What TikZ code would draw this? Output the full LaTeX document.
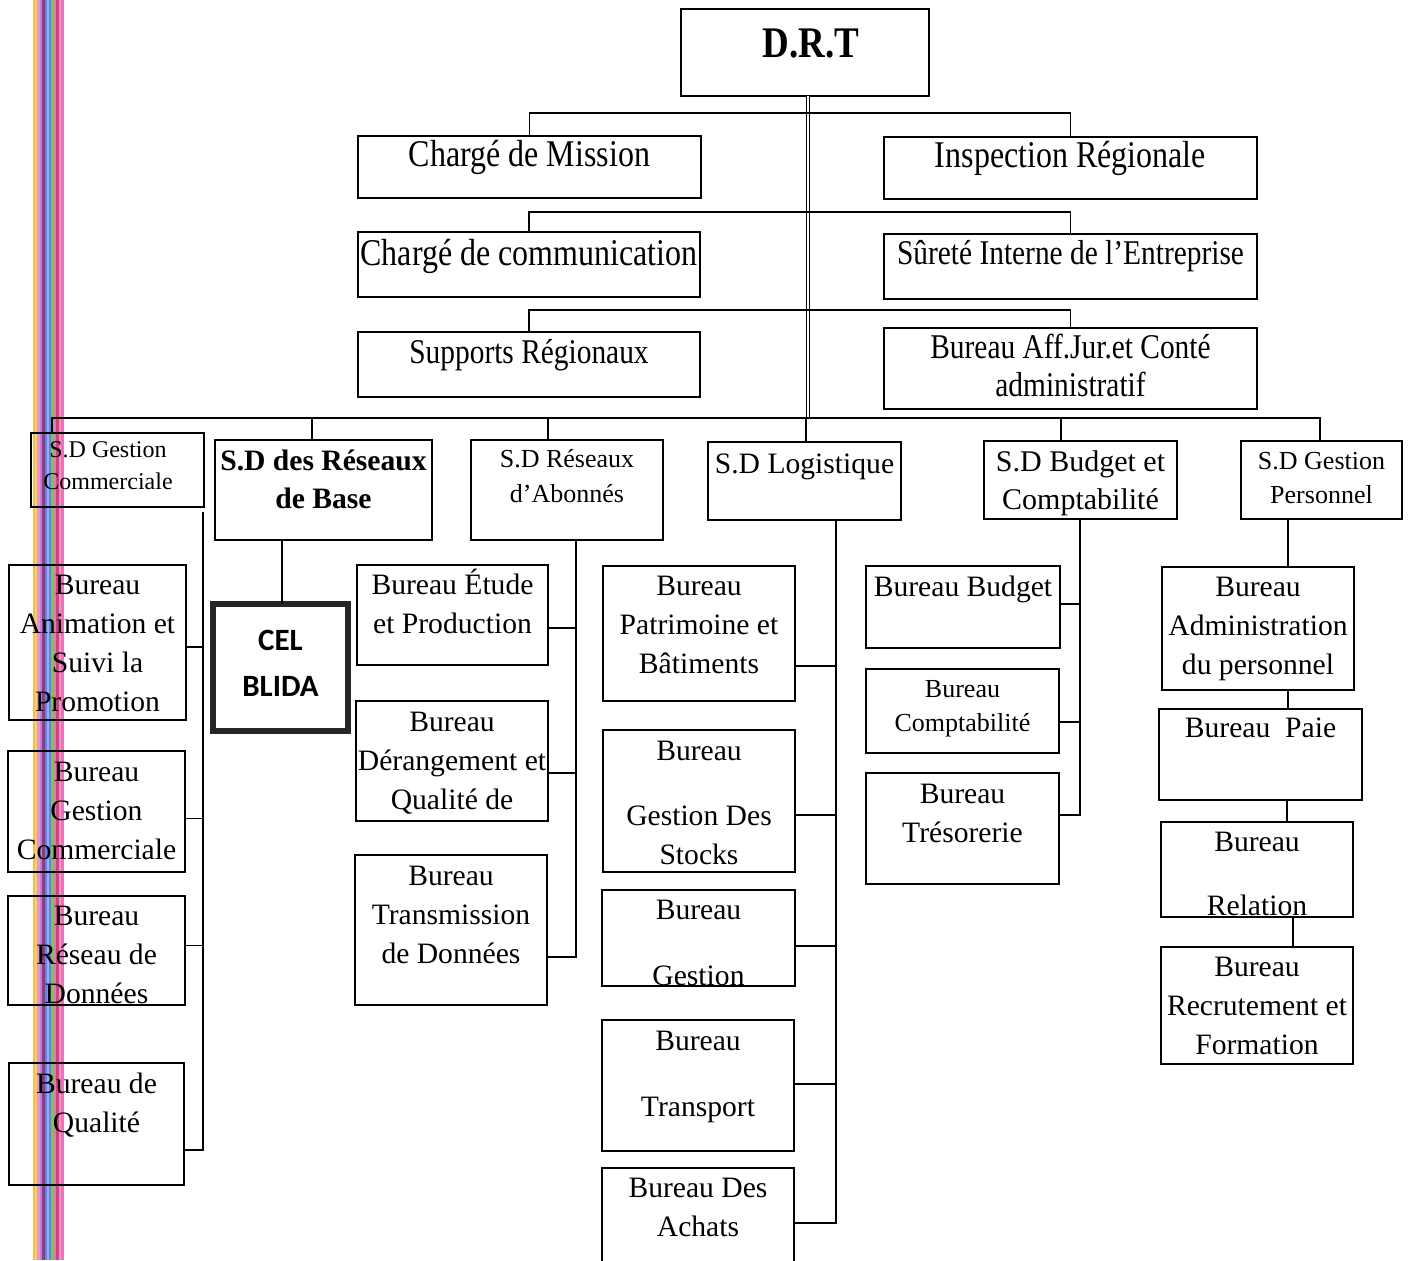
\documentclass[tikz,border=0pt]{standalone}
\usepackage{fontspec}
\setmainfont{Liberation Serif}
\newfontfamily\celfont{Carlito}
\usepackage{graphicx}
\usetikzlibrary{calc,fit}

\definecolor{stO}{RGB}{250,185,70}
\definecolor{stY}{RGB}{240,210,90}
\definecolor{stP}{RGB}{240,140,200}
\definecolor{stV}{RGB}{175,125,225}
\definecolor{stM}{RGB}{140,50,110}
\definecolor{stB}{RGB}{95,120,240}
\definecolor{stL}{RGB}{140,175,250}
\definecolor{stG}{RGB}{125,190,75}
\definecolor{stR}{RGB}{205,60,115}
\definecolor{stQ}{RGB}{230,110,185}

% one line of the condensed headings
\newcommand\tallline[1]{\scalebox{1}[1.18]{#1}}
\newcommand\fsz[2]{\fontsize{#1}{#2}\selectfont}
% framed unit: name, x1, y1, x2, y2, text style, offset of the last baseline, text
\newcommand\orgbox[8]{%
  \node[box,fit={(#2,#3) (#4,#5)}] (#1) {};
  \node[lbl,#6] (#1-t) at ($(#1.north)+(0,#7)$) {#8};}

\begin{document}
\begin{tikzpicture}[x=0.5pt,y=-0.5pt,
  box/.style={draw=black,line width=1.05pt,inner sep=0pt,outer sep=0pt},
  celbox/.style={draw=black!85,line width=2.6pt,inner sep=0pt,outer sep=0pt},
  lbl/.style={inner sep=0pt,align=center,anchor=base},
  fA/.style={font=\fsz{14.8}{19.5}},
  fB/.style={font=\bfseries\fsz{14.8}{19}},
  fS12/.style={font=\fsz{12}{16}},
  fS13/.style={font=\fsz{13}{17.5}},
  fS13b/.style={font=\fsz{13}{17}},
  fS15b/.style={font=\fsz{15}{19}},
  fS16/.style={font=\fsz{16}{19}},
  fS15/.style={font=\fsz{14.7}{19}},
  fDRT/.style={font=\bfseries\fsz{18.5}{22}},
  conn/.style={draw=black,line width=0.8pt},
  busL/.style={draw=black,line width=1.3pt},
  busR/.style={draw=black,line width=0.9pt},
  trunk/.style={draw=black,double,double distance=1pt,line width=0.6pt}]

\useasboundingbox (0,0) rectangle (1413,1260);
\fill[white] (0,0) rectangle (1413,1260);

% coloured vertical streaks along the left margin
\foreach \xx/\cc in {34/stO,36/stY,38.5/stP,41/stV,43.5/stM,46/stB,48/stL,50/stB,52.5/stG,55/stQ,57.5/stR,60/stP,62.5/stQ}
  \draw[\cc,line width=1.1pt,opacity=0.95] (\xx,0) -- (\xx,1260);

% direction and staff units
\orgbox{drt}{681}{9}{929}{96}{fDRT,xshift=3pt}{48}{\tallline{D.R.T}}
\orgbox{cm}{358}{136}{701}{198}{fS16}{30}{\tallline{Chargé de Mission}}
\orgbox{ir}{884}{137}{1257}{199}{fS16}{30}{\tallline{Inspection Régionale}}
\orgbox{cc}{358}{232}{700}{297}{fS16}{33}{\tallline{Chargé de communication}}
\orgbox{sie}{884}{234}{1257}{299}{fS15}{30}{\tallline{Sûreté Interne de l’Entreprise}}
\orgbox{sr}{358}{332}{700}{397}{fS15}{31}{\tallline{Supports Régionaux}}
\orgbox{baj}{884}{328}{1257}{409}{fS15}{68}{\tallline{Bureau Aff.Jur.et Conté}\\\tallline{administratif}}

% sub-directorates
\orgbox{sdgc}{31}{433}{204}{507}{fS12,xshift=-4.75pt}{56}{S.D Gestion\\Commerciale}
\orgbox{sdrb}{215}{440}{432}{540}{fB}{68}{S.D des Réseaux\\de Base}
\orgbox{sdra}{471}{440}{663}{540}{fS13}{62}{S.D Réseaux\\d’Abonnés}
\orgbox{sdl}{708}{442}{901}{520}{fA}{31}{S.D Logistique}
\orgbox{sdbc}{984}{441}{1177}{519}{fS15b}{68}{S.D Budget et\\Comptabilité}
\orgbox{sdgp}{1241}{441}{1402}{519}{fS13b}{62}{S.D Gestion\\Personnel}

% offices: commercial
\orgbox{ba}{9}{565}{186}{720}{fA}{146}{Bureau\\Animation et\\Suivi la\\Promotion}
\orgbox{bgc}{8}{751}{185}{872}{fA}{108}{Bureau\\Gestion\\Commerciale}
\orgbox{brd}{8}{896}{185}{1005}{fA}{107}{Bureau\\Réseau de\\Données}
\orgbox{bq}{9}{1063}{184}{1185}{fA}{69}{Bureau de\\Qualité}

% CEL
\node[celbox,fit={(213,604) (348,731)}] (cel) {};
\node[lbl,font=\celfont\bfseries\fsz{15.5}{23}] (cel-t) at ($(cel.north)+(0,92)$) {CEL\\BLIDA};

% offices: subscriber networks
\orgbox{bep}{357}{565}{548}{665}{fA}{68}{Bureau Étude\\et Production}
\orgbox{bdq}{356}{701}{548}{821}{fA}{108}{Bureau\\Dérangement et\\Qualité de}
\orgbox{btd}{355}{855}{547}{1005}{fA}{108}{Bureau\\Transmission\\de Données}

% offices: logistics
\orgbox{bpb}{603}{566}{795}{701}{fA}{107}{Bureau\\Patrimoine et\\Bâtiments}
\orgbox{bgs}{603}{730}{795}{872}{fA}{134}{Bureau\\[13pt]Gestion Des\\Stocks}
\orgbox{bg}{602}{890}{795}{986}{fA}{95}{Bureau\\[13.5pt]Gestion}
\orgbox{bt}{602}{1020}{794}{1151}{fA}{96}{Bureau\\[13.5pt]Transport}
\orgbox{bda}{602}{1168}{794}{1268}{fA}{68}{Bureau Des\\Achats}

% offices: budget
\orgbox{bb}{866}{566}{1060}{648}{fA}{30}{Bureau Budget}
\orgbox{bc}{866}{669}{1059}{753}{fS13b}{62}{Bureau\\Comptabilité}
\orgbox{btr}{866}{773}{1059}{884}{fA}{69}{Bureau\\Trésorerie}

% offices: personnel
\orgbox{bap}{1162}{567}{1354}{690}{fA}{107}{Bureau\\Administration\\du personnel}
\orgbox{bpa}{1159}{709}{1362}{800}{fA}{28}{Bureau\ \ Paie}
\orgbox{bre}{1161}{822}{1353}{917}{fA}{93}{Bureau\\[12.5pt]Relation}
\orgbox{brf}{1161}{947}{1353}{1064}{fA}{107}{Bureau\\Recrutement et\\Formation}

% trunk and staff branches
\coordinate (bus) at ($(drt.south)+(3,322)$);
\draw[trunk] ($(drt.south)+(3,0)$) -- (bus);
\draw[conn] (cm.north) -- ++(0,-23) -| (ir.north);
\draw[conn] (cc.north) -- ++(0,-20) -| (sie.north);
\draw[conn] (sr.north) -- ++(0,-22) -| (baj.north);

% main bus to the sub-directorates
\coordinate (d1) at ($(sdgc.north west)+(21,0)$);
\coordinate (d2) at ($(sdrb.north)+(-11.5,0)$);
\coordinate (d3) at ($(sdra.north)+(-19,0)$);
\coordinate (d4) at ($(sdl.north)+(1.5,0)$);
\coordinate (d5) at ($(sdbc.north)+(-19.5,0)$);
\coordinate (d6) at ($(sdgp.north)+(-1.5,0)$);
\draw[busL] (d1) |- (bus);
\draw[busR] (bus) -| (d6);
\foreach \d in {d2,d3,d4,d5} \draw[conn] (\d) -- (\d |- bus);

% commercial spine
\coordinate (s1) at ($(sdgc.south east)+(-1,5)$);
\draw[conn] (s1) |- ($(bq.east)+(0,26)$);
\foreach \c/\o in {ba/4.5,bgc/7,brd/-5} \draw[conn] ($(\c.east)+(0,\o)$) -| (s1);

% base networks to CEL
\coordinate (s2) at ($(sdrb.south)+(-41.5,0)$);
\draw[conn] (s2) -- (s2 |- cel.north);

% subscriber networks spine
\coordinate (s3) at ($(sdra.south)+(9,0)$);
\draw[conn] (s3) |- ($(btd.east)+(0,27)$);
\foreach \c/\o in {bep/13,bdq/12} \draw[conn] ($(\c.east)+(0,\o)$) -| (s3);

% logistics spine
\coordinate (s4) at ($(sdl.south)+(31.5,0)$);
\draw[conn] (s4) |- ($(bda.east)+(0,5)$);
\foreach \c/\o in {bpb/32.5,bgs/14,bg/8,bt/-1.5} \draw[conn] ($(\c.east)+(0,\o)$) -| (s4);

% budget spine
\coordinate (s5) at ($(sdbc.south)+(-0.5,0)$);
\draw[conn] (s5) |- ($(btr.east)+(0,-13.5)$);
\foreach \c/\o in {bb/-3,bc/11} \draw[conn] ($(\c.east)+(0,\o)$) -| (s5);

% personnel chain
\coordinate (c61) at ($(sdgp.south)+(-33.5,0)$);
\draw[conn] (c61) -- (c61 |- bap.north);
\coordinate (c62) at ($(bap.south)+(30,0)$);
\draw[conn] (c62) -- (c62 |- bpa.north);
\coordinate (c63) at ($(bpa.south)+(26.5,0)$);
\draw[conn] (c63) -- (c63 |- bre.north);
\coordinate (c64) at ($(bre.south)+(36,0)$);
\draw[conn] (c64) -- (c64 |- brf.north);
\end{tikzpicture}
\end{document}
